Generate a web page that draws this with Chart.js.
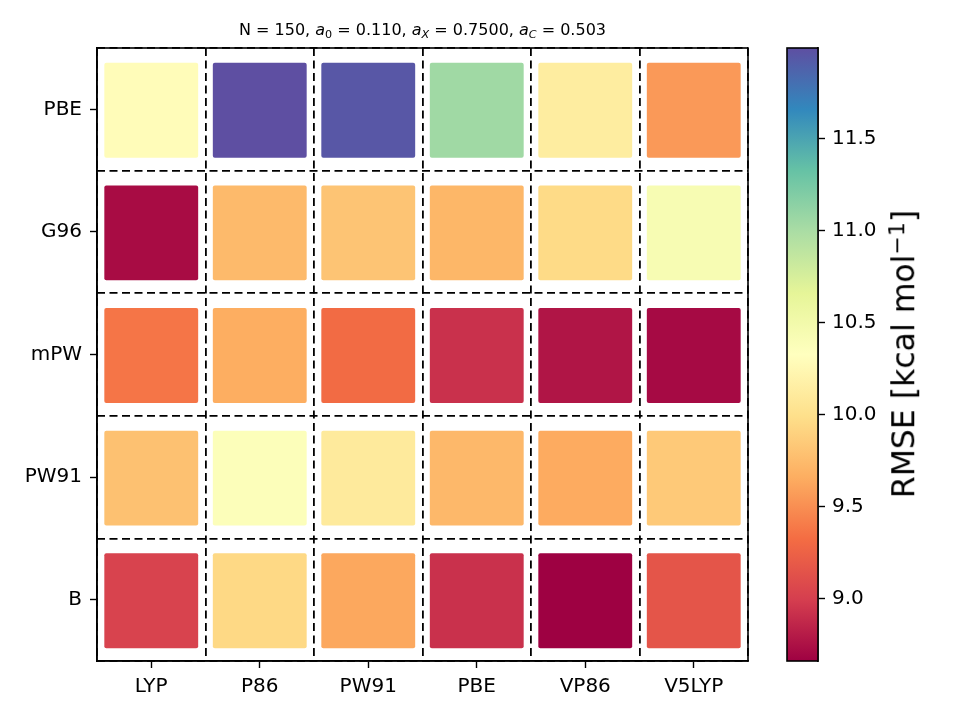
<!DOCTYPE html>
<html>
<head>
<meta charset="utf-8">
<script src="https://cdn.jsdelivr.net/npm/chart.js@4.4.1/dist/chart.umd.min.js"></script>
<style>
  body { margin: 0; background: #fff; }
  #wrap { position: relative; width: 960px; height: 720px; font-family: "DejaVu Sans"; color: #000; }
  #wrap canvas { position: absolute; top: 0; }
  #heat { left: 0; }
  #cbar { left: 760px; }
  #title { position: absolute; left: 97px; width: 651px; top: 22px; text-align: center; font-size: 16px; line-height: 1; white-space: nowrap; }
  #title sub { font-size: 0.7em; vertical-align: -0.3em; line-height: 0; }
  #cbLabel { position: absolute; left: 904px; top: 354px; transform: translate(-50%, -50%) rotate(-90deg); font-size: 31.5px; white-space: nowrap; line-height: 1; }
  #cbLabel sup { font-size: 0.7em; vertical-align: 0.45em; line-height: 0; }
</style>
</head>
<body>
<div id="wrap">
  <canvas id="heat" width="960" height="720"></canvas>
  <canvas id="cbar" width="200" height="720"></canvas>
  <div id="title">N = 150, <i>a</i><sub>0</sub> = 0.110, <i>a</i><sub><i>X</i></sub> = 0.7500, <i>a</i><sub><i>C</i></sub> = 0.503</div>
  <div id="cbLabel">RMSE [kcal mol<sup>&minus;1</sup>]</div>
</div>
<script>
// colonnes (fonctionnelle de corrélation) et lignes (échange), de bas en haut
const xLabels = ["LYP", "P86", "PW91", "PBE", "VP86", "V5LYP"];
const yLabels = ["B", "PW91", "mPW", "G96", "PBE"];

// RMSE par ligne
const rmseB    = [9.03, 9.95, 9.63, 8.92, 8.66, 9.16];
const rmsePW91 = [9.79, 10.37, 10.10, 9.73, 9.645, 9.84];
const rmseMPW  = [9.37, 9.66, 9.31, 8.92, 8.77, 8.71];
const rmseG96  = [8.72, 9.74, 9.81, 9.72, 9.96, 10.43];
const rmsePBE  = [10.29, 11.995, 11.95, 11.05, 10.13, 9.555];

const cbarTicks = [9.0, 9.5, 10.0, 10.5, 11.0, 11.5];

const rows = [rmseB, rmsePW91, rmseMPW, rmseG96, rmsePBE];
const allVals = rows.flat();
const cbMin = Math.min(...allVals);
const cbMax = Math.max(...allVals);

// palette "Spectral" de matplotlib
const spectral = ["#9e0142", "#d53e4f", "#f46d43", "#fdae61", "#fee08b", "#ffffbf",
                  "#e6f598", "#abdda4", "#66c2a5", "#3288bd", "#5e4fa2"];

function hexToRgb(hex) {
  const h = hex.replace("#", "");
  return [0, 2, 4].map(i => parseInt(h.substring(i, i + 2), 16));
}

function colorFor(v) {
  const t = Math.min(Math.max((v - cbMin) / (cbMax - cbMin), 0), 1) * 10;
  const i = Math.min(Math.floor(t), 9);
  const f = t - i;
  const a = hexToRgb(spectral[i]);
  const b = hexToRgb(spectral[i + 1]);
  const c = a.map((x, k) => Math.round(x + (b[k] - x) * f));
  return `rgb(${c[0]}, ${c[1]}, ${c[2]})`;
}

Chart.defaults.font.family = "DejaVu Sans";
Chart.defaults.color = "#000";

// cadre noir autour de la zone du graphe
const frame = {
  id: "frame",
  afterDraw(chart) {
    const { ctx, chartArea: a } = chart;
    ctx.save();
    ctx.strokeStyle = "#000";
    ctx.lineWidth = 1.6;
    ctx.strokeRect(a.left, a.top, a.right - a.left, a.bottom - a.top);
    ctx.restore();
  }
};

const halfCell = 0.387;
const yBounds = yLabels.map((_, i) => i - 0.5).concat([yLabels.length - 0.5]);

new Chart(document.getElementById("heat"), {
  type: "bar",
  data: {
    labels: xLabels,
    datasets: rows.map((vals, r) => ({
      label: yLabels[r],
      data: vals.map(() => [r - halfCell - 0.008, r + halfCell - 0.008]),
      backgroundColor: vals.map(colorFor),
      borderWidth: 0,
      borderRadius: 2,
      borderSkipped: false,
      grouped: false,
      categoryPercentage: 1,
      barPercentage: 0.865
    }))
  },
  options: {
    responsive: false,
    animation: false,
    layout: { padding: { left: 0, top: 48, right: 212, bottom: 0 } },
    plugins: { legend: { display: false }, tooltip: { enabled: false }, title: { display: false } },
    scales: {
      x: {
        type: "category",
        offset: true,
        grid: { offset: false, drawOnChartArea: false, tickLength: 7, tickColor: "#000", tickWidth: 1.4 },
        border: { color: "#000", width: 1.6 },
        ticks: { font: { size: 20 }, padding: 7, maxRotation: 0 },
        afterFit: s => { s.height = 59; }
      },
      xGrid: {
        type: "category",
        labels: xLabels,
        position: "bottom",
        offset: true,
        grid: { offset: true, drawTicks: false, color: "#000", lineWidth: 1.8 },
        border: { display: false, dash: [8, 4.5] },
        ticks: { display: false },
        afterFit: s => { s.height = 0; }
      },
      y: {
        type: "linear",
        position: "left",
        min: -0.5,
        max: yLabels.length - 0.5,
        afterBuildTicks: s => { s.ticks = yLabels.map((_, i) => ({ value: i })); },
        grid: { drawOnChartArea: false, tickLength: 7, tickColor: "#000", tickWidth: 1.4 },
        border: { color: "#000", width: 1.6 },
        ticks: { font: { size: 20 }, padding: 8, callback: v => yLabels[v] },
        afterFit: s => { s.width = 97; }
      },
      yGrid: {
        type: "linear",
        position: "left",
        min: -0.5,
        max: yLabels.length - 0.5,
        afterBuildTicks: s => { s.ticks = yBounds.map(v => ({ value: v })); },
        grid: { drawTicks: false, color: "#000", lineWidth: 1.8 },
        border: { display: false, dash: [8, 4.5] },
        ticks: { display: false },
        afterFit: s => { s.width = 0; }
      }
    }
  },
  plugins: [frame]
});

// barre de couleur
new Chart(document.getElementById("cbar"), {
  type: "bar",
  data: {
    labels: ["RMSE"],
    datasets: [{
      data: [[cbMin, cbMax]],
      backgroundColor: ctx => {
        const { ctx: c, chartArea } = ctx.chart;
        if (!chartArea) return null;
        const g = c.createLinearGradient(0, chartArea.bottom, 0, chartArea.top);
        spectral.forEach((col, i) => g.addColorStop(i / (spectral.length - 1), col));
        return g;
      },
      borderWidth: 0,
      borderSkipped: false,
      categoryPercentage: 1,
      barPercentage: 1
    }]
  },
  options: {
    responsive: false,
    animation: false,
    layout: { padding: { left: 27, top: 48, right: 0, bottom: 59 } },
    plugins: { legend: { display: false }, tooltip: { enabled: false } },
    scales: {
      x: { display: false },
      y: {
        type: "linear",
        position: "right",
        min: cbMin,
        max: cbMax,
        afterBuildTicks: s => { s.ticks = cbarTicks.map(v => ({ value: v })); },
        grid: { drawOnChartArea: false, tickLength: 7, tickColor: "#000", tickWidth: 1.4 },
        border: { color: "#000", width: 1.6 },
        ticks: { font: { size: 20 }, padding: 7, callback: v => v.toFixed(1) },
        afterFit: s => { s.width = 142; }
      }
    }
  },
  plugins: [frame]
});
</script>
</body>
</html>
